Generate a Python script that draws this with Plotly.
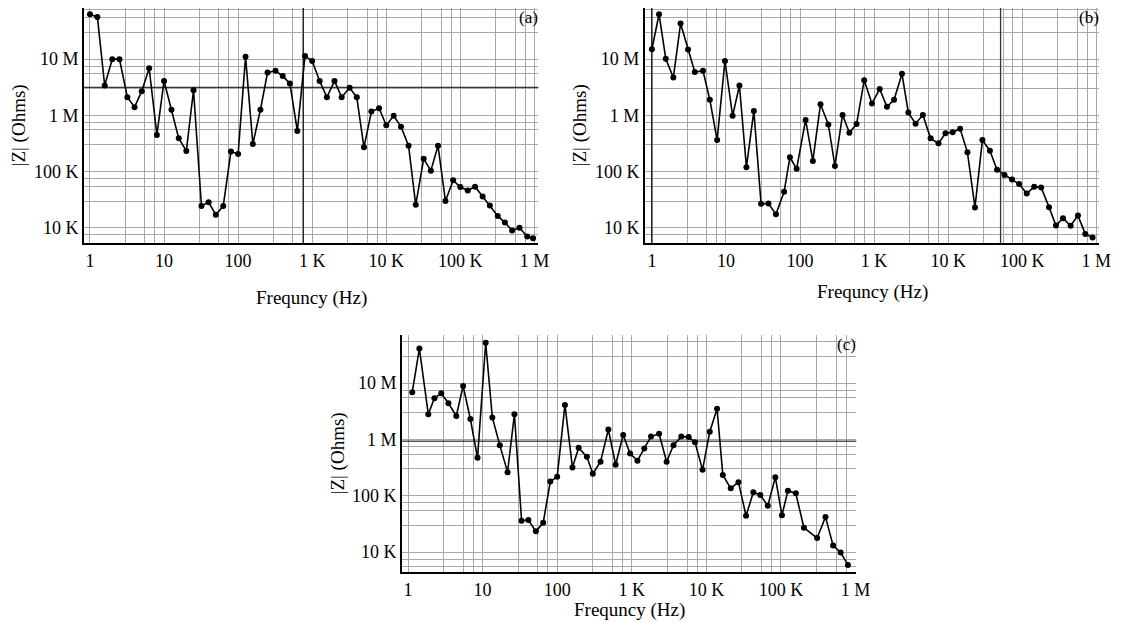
import plotly.graph_objects as go

# ---------------- data ----------------
freq_a = [1, 1.26, 1.58, 2, 2.5, 3.2, 4, 5, 6.3, 8,
          10, 12.6, 15.8, 20, 25, 32, 40, 50, 63, 80,
          100, 126, 158, 200, 250, 320, 400, 500, 630, 800,
          1000, 1260, 1580, 2000, 2500, 3200, 4000, 5000, 6300, 8000,
          10000, 12600, 15800, 20000, 25000, 32000, 40000, 50000, 63000, 80000,
          100000, 126000, 158000, 200000, 250000, 320000, 400000, 500000, 630000, 800000,
          960000]
z_a = [63e6, 56e6, 3.4e6, 10e6, 10e6, 2.1e6, 1.4e6, 2.7e6, 6.9e6, 450e3,
       4.1e6, 1.26e6, 390e3, 233e3, 2.8e6, 24.5e3, 28.6e3, 17e3, 24.5e3, 227e3,
       206e3, 11e6, 310e3, 1.26e6, 5.8e6, 6.2e6, 5.0e6, 3.7e6, 529e3, 11.4e6,
       9.3e6, 4.1e6, 2.1e6, 4.1e6, 2.1e6, 3.1e6, 2.1e6, 270e3, 1.17e6, 1.34e6,
       666e3, 980e3, 630e3, 288e3, 25.6e3, 169e3, 104e3, 288e3, 30e3, 70e3,
       53e3, 46e3, 54e3, 36e3, 25e3, 16.3e3, 12.4e3, 9e3, 10e3, 7e3,
       6.5e3]

freq_b = [1, 1.25, 1.54, 1.95, 2.44, 3.08, 3.8, 4.9, 6.06, 7.6,
          9.7, 12.3, 15.2, 18.9, 23.8, 29.8, 37.5, 47.3, 61, 73,
          90, 119, 149, 189, 241, 296, 375, 464, 580, 735,
          935, 1190, 1490, 1860, 2380, 2900, 3630, 4550, 5800, 7400,
          9200, 11500, 14500, 18200, 23000, 29000, 36600, 45700, 57600, 72800,
          90600, 115000, 145000, 180000, 230000, 285000, 355000, 450000, 565000, 710000,
          890000]
z_b = [15e6, 63e6, 10.2e6, 4.7e6, 43e6, 14.8e6, 5.9e6, 6.2e6, 1.9e6, 363e3,
       9.3e6, 980e3, 3.4e6, 120e3, 1.2e6, 26.7e3, 27e3, 17.5e3, 43.7e3, 180e3,
       112e3, 830e3, 155e3, 1.58e6, 690e3, 126e3, 1.02e6, 490e3, 700e3, 4.2e6,
       1.62e6, 2.96e6, 1.42e6, 1.9e6, 5.5e6, 1.12e6, 710e3, 1.02e6, 390e3, 318e3,
       480e3, 500e3, 576e3, 220e3, 23e3, 363e3, 235e3, 108e3, 87e3, 72e3,
       60e3, 40.6e3, 53.5e3, 52e3, 23.3e3, 11e3, 14.8e3, 10.9e3, 16.5e3, 7.8e3,
       6.7e3]

freq_c = [1.14, 1.42, 1.87, 2.26, 2.79, 3.48, 4.44, 5.48, 6.85, 8.55,
          11, 13.5, 17, 21.6, 26.7, 33.3, 41.1, 51.8, 64.9, 80.8,
          100, 127, 160, 194, 250, 300, 381, 485, 607, 766,
          950, 1190, 1470, 1810, 2320, 2930, 3620, 4610, 5790, 7030,
          8880, 11100, 13900, 16600, 21200, 26900, 34000, 42600, 52800, 66500,
          84000, 103000, 124000, 158000, 203000, 305000, 395000, 500000, 630000, 790000]
z_c = [6.9e6, 41e6, 2.8e6, 5.4e6, 6.6e6, 4.4e6, 2.6e6, 8.9e6, 2.3e6, 470e3,
       52e6, 2.45e6, 790e3, 262e3, 2.8e6, 36e3, 37e3, 23.3e3, 33e3, 178e3,
       218e3, 4.1e6, 318e3, 710e3, 490e3, 245e3, 400e3, 1.5e6, 355e3, 1.2e6,
       560e3, 418e3, 690e3, 1.12e6, 1.26e6, 400e3, 790e3, 1.12e6, 1.1e6, 890e3,
       288e3, 1.37e6, 3.5e6, 234e3, 135e3, 174e3, 44e3, 115e3, 103e3, 66e3,
       213e3, 45e3, 123e3, 110e3, 27e3, 17.7e3, 42e3, 13e3, 9.8e3, 5.9e3]

x_tickvals = [1, 10, 100, 1e3, 1e4, 1e5, 1e6]
x_ticktext = ["1", "10", "100", "1 K", "10 K", "100 K", "1 M"]
y_tickvals = [1e4, 1e5, 1e6, 1e7]
y_ticktext = ["10 K", "100 K", "1 M", "10 M"]
panel_labels = ["(a)", "(b)", "(c)"]
x_title = "Frequncy (Hz)"
y_title = "|Z| (Ohms)"

# ---------------- layout helpers ----------------
OFF = 8                      # page body margin of the browser
W, H = 1135 - OFF, 623 - OFF
FONT = "Liberation Serif"
GRID_STEPS = [3, 5.5, 7.5]
minor_x = [m * 10 ** d for d in range(-1, 7) for m in GRID_STEPS]
minor_y = [m * 10 ** d for d in range(3, 8) for m in GRID_STEPS]


def px(x):
    return (x - OFF) / W


def py(y):
    return 1 - (y - OFF) / H


# screen-pixel boxes: (left, right, top, bottom), axis log ranges, x-title gap
panels = [
    dict(box=(85, 545, 8, 243), xr=[-0.08, 6.053], yr=[3.73, 7.91], f=freq_a, z=z_a, gap=55),
    dict(box=(653, 1113, 8, 243), xr=[-0.093, 6.04], yr=[3.73, 7.91], f=freq_b, z=z_b, gap=49),
    dict(box=(407, 867, 335, 572), xr=[-0.08, 6.01], yr=[3.645, 7.854], f=freq_c, z=z_c, gap=38),
]

fig = go.Figure()
layout_axes = {}
annotations = []
shapes = []
for i, p in enumerate(panels):
    l, r, t, b = p["box"]
    sfx = "" if i == 0 else str(i + 1)
    fig.add_trace(go.Scatter(
        x=p["f"], y=p["z"], mode="lines+markers",
        line=dict(color="black", width=1.6),
        marker=dict(color="black", size=6),
        xaxis="x" + sfx, yaxis="y" + sfx, showlegend=False, hoverinfo="skip"))
    common = dict(type="log", showline=True, linecolor="black", linewidth=2,
                  mirror=False, ticks="", showgrid=True, gridcolor="#a8a8a8",
                  gridwidth=1.3, zeroline=False,
                  tickfont=dict(family=FONT, size=18, color="black"),
                  tickmode="array")
    layout_axes["xaxis" + sfx] = dict(
        common, domain=[px(l), px(r)], range=p["xr"], anchor="y" + sfx,
        tickvals=x_tickvals, ticktext=x_ticktext,
        minor=dict(tickmode="array", tickvals=minor_x, showgrid=True,
                   gridcolor="#a8a8a8", gridwidth=1.3, ticks=""))
    layout_axes["yaxis" + sfx] = dict(
        common, domain=[py(b), py(t)], range=p["yr"], anchor="x" + sfx,
        tickvals=y_tickvals, ticktext=y_ticktext,
        minor=dict(tickmode="array", tickvals=minor_y, showgrid=True,
                   gridcolor="#a8a8a8", gridwidth=1.3, ticks=""))
    annotations.append(dict(text=x_title, x=px((l + r) / 2), y=py(b + p["gap"]),
                            xref="paper", yref="paper", showarrow=False,
                            xanchor="center", yanchor="middle",
                            font=dict(family=FONT, size=19, color="black")))
    annotations.append(dict(text=y_title, x=px(l - 65), y=py((t + b) / 2),
                            xref="paper", yref="paper", showarrow=False, textangle=-90,
                            xanchor="center", yanchor="middle",
                            font=dict(family=FONT, size=19, color="black")))
    annotations.append(dict(text=panel_labels[i], x=px(r - 10), y=py(t + 9),
                            xref="paper", yref="paper", showarrow=False,
                            xanchor="center", yanchor="middle",
                            font=dict(family=FONT, size=17, color="black")))

# darker reference lines
shapes.append(dict(type="line", xref="x domain", yref="y", x0=0, x1=1, y0=3.16e6, y1=3.16e6,
                   line=dict(color="black", width=1)))
shapes.append(dict(type="line", xref="x", yref="y domain", x0=760, x1=760, y0=0, y1=1,
                   line=dict(color="black", width=1)))
shapes.append(dict(type="line", xref="x2", yref="y2 domain", x0=51000, x1=51000, y0=0, y1=1,
                   line=dict(color="#333333", width=1.3)))
shapes.append(dict(type="line", xref="x2", yref="y2 domain", x0=1, x1=1, y0=0, y1=1,
                   line=dict(color="black", width=1.3)))
shapes.append(dict(type="line", xref="x3 domain", yref="y3", x0=0, x1=1, y0=0.93e6, y1=0.93e6,
                   line=dict(color="black", width=1)))

fig.update_layout(
    width=W, height=H, margin=dict(l=0, r=0, t=0, b=0),
    paper_bgcolor="white", plot_bgcolor="white",
    annotations=annotations, shapes=shapes, **layout_axes)

fig.write_html("out.html")
